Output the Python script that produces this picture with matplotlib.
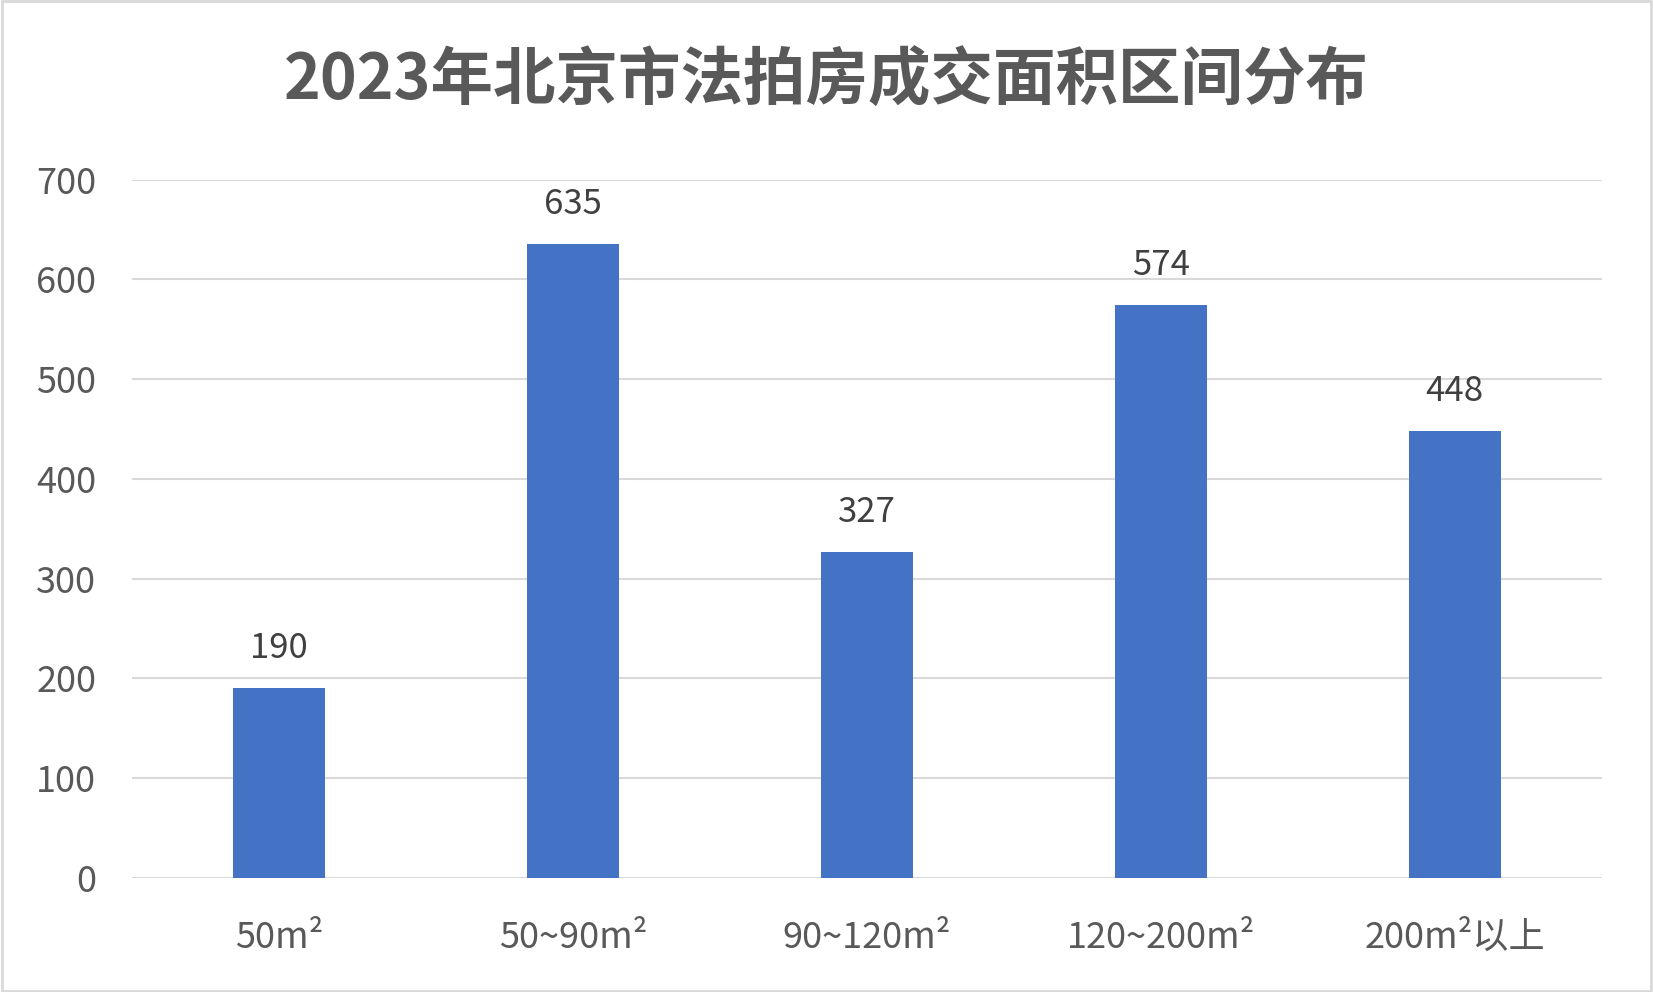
import matplotlib
matplotlib.use("Agg")
import matplotlib.pyplot as plt

plt.rcParams['font.family'] = ['Noto Sans CJK SC', 'DejaVu Sans']

categories = ["50m²", "50~90m²", "90~120m²", "120~200m²", "200m²以上"]
values = [190, 635, 327, 574, 448]
yticks = [0, 100, 200, 300, 400, 500, 600, 700]

fig = plt.figure(figsize=(16.53, 9.92), dpi=100)
ax = fig.add_axes([0.080, 0.115, 0.889, 0.704])
x = range(len(categories))
ax.bar(x, values, width=0.315, color="#4472C4", zorder=3)
for xi, v in zip(x, values):
    ax.text(xi, v + 22, str(v), ha="center", va="bottom", fontsize=25, color="#404040")
ax.set_xlim(-0.5, len(categories) - 0.5)
ax.set_ylim(0, 700)
ax.set_yticks(yticks)
ax.set_yticklabels([str(t) for t in yticks])
ax.set_xticks(list(x))
ax.set_xticklabels(categories)
ax.tick_params(axis='both', length=0, labelsize=26, labelcolor="#595959")
ax.tick_params(axis='x', pad=30)
ax.tick_params(axis='y', pad=26)
ax.grid(axis='y', color="#D9D9D9", linewidth=1.5, zorder=0)
for s in ax.spines.values():
    s.set_visible(False)
fig.text(0.5, 0.918, "2023年北京市法拍房成交面积区间分布", ha="center", va="center",
         fontsize=45, fontweight="bold", color="#595959")
fig.patches.append(plt.Rectangle((0.001, 0.001), 0.998, 0.998, transform=fig.transFigure,
                                 fill=False, edgecolor="#D9D9D9", linewidth=2))
fig.savefig("out.png", dpi=100)
